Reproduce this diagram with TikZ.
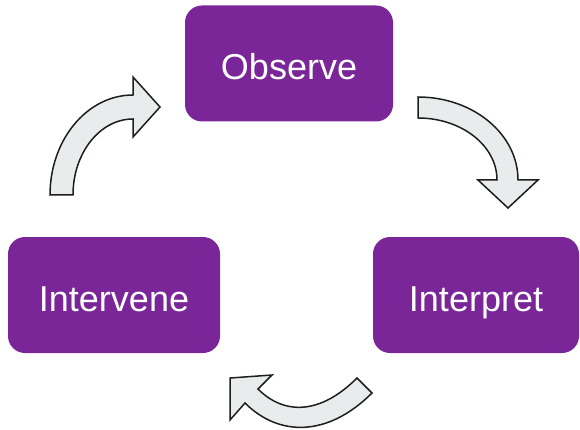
\documentclass[tikz,border=0pt]{standalone}
\usepackage{fontspec}
\setmainfont{Liberation Sans}
\definecolor{stagepurple}{RGB}{122,37,152}
\definecolor{arrowgray}{RGB}{233,236,236}
\definecolor{arrowline}{RGB}{30,30,30}
\begin{document}
\begin{tikzpicture}[x=1pt, y=-1pt,
		stage/.style={fill=stagepurple, rounded corners=17pt, text=white, font=\fontsize{36}{40}\selectfont, text height=33pt, text depth=0pt, minimum height=116pt},
		turn/.style={fill=arrowgray, draw=arrowline, line width=1.5pt, line join=miter}]
	\useasboundingbox (0,0) rectangle (580,430);
	\node[stage, minimum width=208pt] (observe) at (289,63.5) {Observe};
	\node[stage, minimum width=206pt] (interpret) at (476,295) {Interpret};
	\node[stage, minimum width=212pt] (intervene) at (114,295) {Intervene};
	% upper left
	\draw[turn] (50,195) arc[start angle=180, end angle=270, x radius=83, y radius=100] -- (133,77) -- (160,107) -- (133,137) -- (133,119) arc[start angle=270, end angle=180, x radius=60, y radius=76] -- cycle;
	% upper right
	\draw[turn] (418,97) arc[start angle=270, end angle=360, x radius=100, y radius=83] -- (538,180) -- (508,208) -- (478,180) -- (497,180) arc[start angle=0, end angle=-90, x radius=79, y radius=62] -- cycle;
	% bottom
	\draw[turn] (372,393) .. controls (328,437) and (279,437) .. (245,403) -- (230,420) -- (230,378) -- (272,375) -- (258,389) .. controls (284,415) and (320,415) .. (357,378) -- cycle;
\end{tikzpicture}
\end{document}
